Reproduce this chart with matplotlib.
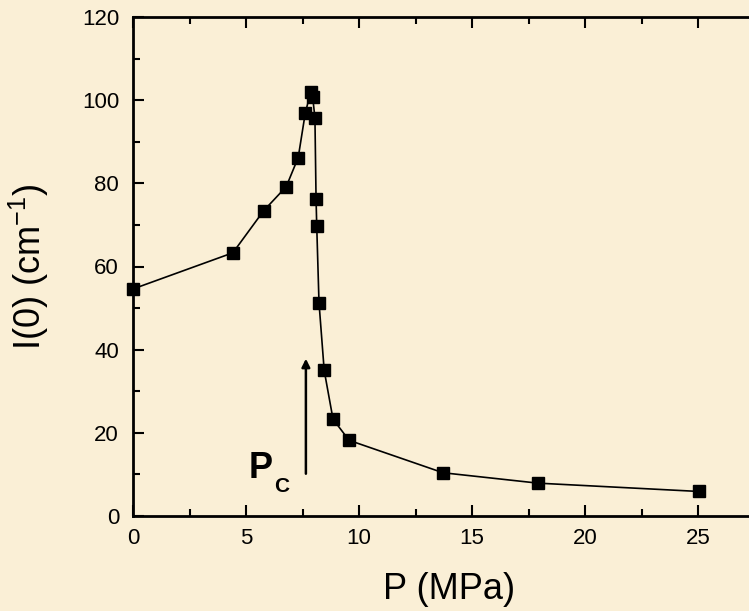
import matplotlib.pyplot as plt
from matplotlib.ticker import MultipleLocator

plt.rcParams["font.family"] = ["Liberation Sans", "DejaVu Sans"]

# pressure (MPa) and forward intensity I(0) (cm^-1)
pressure = [0.0, 4.42, 5.78, 6.78, 7.31, 7.62, 7.86, 7.95, 8.05, 8.10, 8.13,
            8.23, 8.46, 8.85, 9.56, 13.72, 17.92, 25.04]
intensity = [54.6, 63.3, 73.4, 79.2, 86.2, 96.8, 102.0, 100.7, 95.8, 76.2, 69.7,
             51.3, 35.0, 23.3, 18.2, 10.4, 7.9, 5.9]

pc_value = 7.65
pc_arrow = (9.5, 38.5)

BG = "#FAEFD6"


def main() -> None:
    fig = plt.figure(figsize=(7.49, 6.11), dpi=100, facecolor=BG)
    # axes extends past the right edge of the figure, as in the cropped original
    ax = fig.add_axes([133 / 749, 95 / 611, 28 * 22.6 / 749, 499 / 611])
    ax.set_facecolor(BG)

    ax.plot(pressure, intensity, color="black", lw=1.2, marker="s", ms=8,
            mfc="black", mec="black", clip_on=False, zorder=3)

    ax.annotate("", xy=(pc_value, pc_arrow[1]), xytext=(pc_value, pc_arrow[0]),
                arrowprops=dict(arrowstyle="-|>", color="black", lw=1.8,
                                mutation_scale=12))
    ax.text(6.2, 9.1, "P", fontsize=26, fontweight="bold", ha="right", va="baseline")
    ax.text(6.6, 5.8, "C", fontsize=15, fontweight="bold", ha="center", va="baseline")

    ax.set_xlim(0, 28)
    ax.set_ylim(0, 120)
    ax.xaxis.set_major_locator(MultipleLocator(5))
    ax.xaxis.set_minor_locator(MultipleLocator(2.5))
    ax.yaxis.set_major_locator(MultipleLocator(20))
    ax.yaxis.set_minor_locator(MultipleLocator(10))
    ax.tick_params(which="both", direction="in", top=True, width=1.5, labelsize=16)
    ax.tick_params(which="major", length=8)
    ax.tick_params(axis="x", which="major", pad=9)
    ax.tick_params(axis="y", which="major", pad=10)
    ax.tick_params(which="minor", length=5)
    for side in ax.spines.values():
        side.set_linewidth(2)

    ax.set_xlabel("P (MPa)", fontsize=26, labelpad=16)
    ax.set_ylabel(r"I(0) (cm$^{\mathregular{-1}}$)", fontsize=26, labelpad=22)

    fig.savefig("out.png", dpi=100, facecolor=BG)


if __name__ == "__main__":
    main()
